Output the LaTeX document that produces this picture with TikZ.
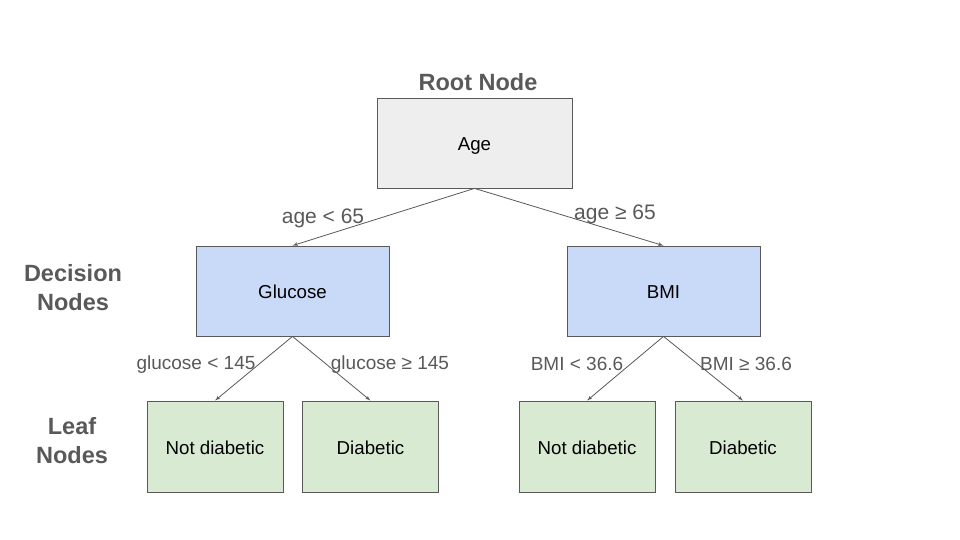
\documentclass[tikz,border=0pt]{standalone}
\usepackage{fontspec}
\setmainfont{Liberation Sans}
\usepackage{tikz}
\usetikzlibrary{arrows,positioning,calc}
\definecolor{rootfill}{HTML}{EEEEEE}
\definecolor{decfill}{HTML}{C9DAF8}
\definecolor{leaffill}{HTML}{D9EAD3}
\definecolor{edgegray}{HTML}{595959}
\tikzset{
block/.style = {draw=edgegray, line width=0.8pt, rectangle, minimum height=90pt, text height=15pt, text depth=0pt, font=\fontsize{18.7}{22}\selectfont},
rootblock/.style = {block, fill=rootfill, minimum width=195pt},
decblock/.style = {block, fill=decfill, minimum width=193pt},
leafblock/.style = {block, fill=leaffill, minimum width=136pt, minimum height=91pt},
title/.style = {text=edgegray, font=\fontsize{23.5}{29}\selectfont\bfseries, align=center},
cond/.style = {text=edgegray, font=\fontsize{19}{22}\selectfont},
bigcond/.style = {text=edgegray, font=\fontsize{21}{24}\selectfont},
link/.style = {->, draw=edgegray, line width=0.8pt}
}
\begin{document}
\begin{tikzpicture}[x=1pt, y=-1pt, >=latex']
    \useasboundingbox (0,0) rectangle (960,540);
    \node [rootblock] (age) at (474.5,143) {Age};
    \node [title] (roottitle) at (478,82) {Root Node};
    \node [decblock] (glucose) at (292.5,291) {Glucose};
    \node [decblock] (bmi) at (663.5,291) {BMI};
    \node [title] (dectitle) at (73,288) {Decision\\Nodes};
    \node [leafblock] (gnot) at (215,446.5) {Not diabetic};
    \node [leafblock] (gyes) at (370.5,446.5) {Diabetic};
    \node [leafblock] (bnot) at (587,446.5) {Not diabetic};
    \node [leafblock] (byes) at (743,446.5) {Diabetic};
    \node [title] (leaftitle) at (72,441) {Leaf\\Nodes};
    \draw [link] (age.south) -- (glucose.north);
    \draw [link] (age.south) -- (bmi.north);
    \draw [link] (glucose.south) -- (gnot.north);
    \draw [link] (glucose.south) -- (gyes.north);
    \draw [link] (bmi.south) -- (bnot.north);
    \draw [link] (bmi.south) -- (byes.north);
    \node [bigcond] (agelow) at (323,218) {age < 65};
    \node [bigcond] (agehigh) at (615,214) {age ≥ 65};
    \node [cond] (glow) at (196,364.5) {glucose < 145};
    \node [cond] (ghigh) at (390,364.5) {glucose ≥ 145};
    \node [cond] (blow) at (577,363.5) {BMI < 36.6};
    \node [cond] (bhigh) at (746,363.5) {BMI ≥ 36.6};
\end{tikzpicture}
\end{document}
